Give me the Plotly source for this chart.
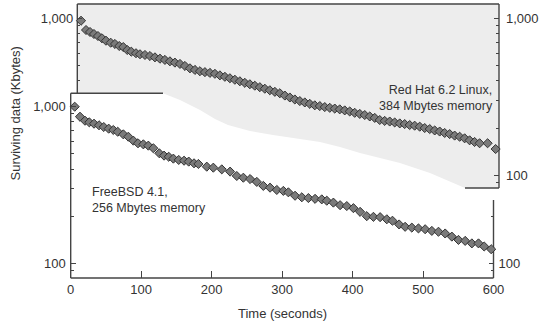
import plotly.graph_objects as go

# ---------------- data ----------------
# FreeBSD 4.1, 256 Mbytes memory (front panel)
bsd_time = [5.7, 13.2, 20.3, 26.4, 33.1, 40.2, 46.9, 53.9, 60.5, 66.7, 74.7, 81.8, 88.9, 95.5,
            103.1, 110.2, 117.3, 125.8, 132.5, 139.1, 145.7, 153.3, 160.9, 167.5, 175.0, 181.2,
            193.1, 202.4, 214.4, 226.2, 235.7, 245.0, 254.6, 264.1, 273.4, 282.9, 292.5, 301.8,
            308.9, 318.4, 328.0, 337.3, 346.8, 356.3, 363.4, 372.8, 382.3, 391.8, 401.2, 410.7,
            420.2, 429.6, 439.1, 448.6, 456.6, 466.1, 474.6, 484.1, 493.5, 503.0, 512.5, 521.9,
            531.4, 540.9, 550.3, 559.8, 569.3, 578.7, 586.8, 596.7]
bsd_kbytes = [1000, 863, 814, 795, 779, 761, 742, 724, 710, 692, 666, 643, 607, 584,
              575, 564, 543, 504, 487, 479, 466, 457, 452, 446, 435, 431,
              414, 408, 398, 385, 361, 352, 345, 331, 312, 304, 294, 290,
              284, 270, 264, 261, 258, 256, 251, 244, 235, 232, 225, 213,
              200, 198, 197, 191, 187, 177, 171, 169, 167, 165, 161, 159,
              155, 148, 141, 139, 134, 134, 128, 123]

# Red Hat 6.2 Linux, 384 Mbytes memory (back panel)
rh_time = [5.3, 12.4, 18.1, 23.7, 29.4, 35.1, 40.8, 47.5, 53.6, 59.7, 65.4, 71.1, 76.8, 83.5,
           89.2, 96.3, 103.4, 110.5, 117.6, 124.7, 131.8, 138.9, 146.1, 153.2, 160.3, 167.4,
           174.5, 181.6, 188.7, 195.8, 202.9, 210.0, 217.1, 224.2, 231.3, 238.4, 245.5, 252.6,
           259.7, 266.8, 273.9, 281.1, 288.2, 295.3, 302.4, 309.5, 316.6, 323.7, 330.8, 337.9,
           345.0, 352.1, 359.2, 366.3, 373.4, 380.5, 387.6, 394.7, 401.9, 409.0, 416.1, 423.2,
           430.3, 437.4, 444.5, 451.6, 458.8, 465.8, 472.9, 480.0, 487.2, 494.3, 501.4, 508.5,
           515.6, 522.7, 529.8, 536.9, 544.0, 551.1, 558.2, 565.3, 572.4, 583.8, 595.2]
rh_kbytes = [965, 842, 818, 794, 771, 746, 720, 699, 686, 666, 656, 628, 613, 599,
             590, 584, 575, 564, 553, 543, 532, 522, 512, 497, 480, 469,
             460, 454, 449, 443, 433, 424, 415, 406, 397, 388, 380, 372,
             364, 356, 348, 340, 333, 322, 313, 304, 297, 291, 285, 279,
             276, 272, 269, 266, 263, 259, 255, 250, 246, 242, 237, 232,
             225, 222, 220, 217, 214, 212, 209, 207, 204, 200, 197, 193,
             190, 186, 183, 179, 176, 172, 167, 163, 160, 160, 147]

x_ticks = [0, 100, 200, 300, 400, 500, 600]
y_major = [100, 1000]
y_major_text = ["100", "1,000"]
y_minor = [90, 200, 300, 400, 500, 600, 700, 800, 900]

# ---------------- layout helpers (pixel -> paper) ----------------
W, H = 543, 324
def px(x):
    return x / W
def py(y):
    return 1 - y / H

FONT = "Liberation Sans, Arial, Helvetica, sans-serif"
TXT = "#333333"
AX = "#444444"

# panel geometry (pixels)
F_L, F_R, F_T, F_B = 70.7, 493.5, 93.3, 278.0      # front panel
B_L, B_R, B_T, B_B = 77.3, 499.0, 4.0, 188.0       # back panel

marker = dict(symbol="diamond", size=7, color="#7a7a7a", line=dict(color="#333333", width=1))

fig = go.Figure()
fig.add_trace(go.Scatter(x=rh_time, y=rh_kbytes, mode="markers", marker=marker,
                         xaxis="x2", yaxis="y2", showlegend=False, cliponaxis=False))
fig.add_trace(go.Scatter(x=bsd_time, y=bsd_kbytes, mode="markers", marker=marker,
                         xaxis="x", yaxis="y", showlegend=False, cliponaxis=False))

tickfont = dict(family=FONT, size=13, color=TXT)

def yax(domain, rng, vals, texts, minor_vals, side="left", standoff=3, **kw):
    d = dict(type="log", domain=domain, range=rng, tickmode="array", tickvals=vals,
             ticktext=texts, ticks="inside", ticklen=5, tickwidth=1, tickcolor=AX,
             showgrid=False, zeroline=False, showline=False, side=side, tickfont=tickfont,
             automargin=False, ticklabelstandoff=standoff,
             minor=dict(tickmode="array", tickvals=minor_vals, ticks="inside", ticklen=3,
                        tickwidth=1, tickcolor=AX, showgrid=False))
    d.update(kw)
    return d

front_ydom = [py(F_B), py(F_T)]
back_ydom = [py(B_B), py(B_T)]
front_rng = [1.906, 3.0856]
back_rng = [1.919, 3.091]

fig.update_layout(
    width=W, height=H, autosize=False,
    margin=dict(l=0, r=0, t=0, b=0, pad=0),
    paper_bgcolor="white", plot_bgcolor="rgba(0,0,0,0)",
    font=dict(family=FONT, size=13, color=TXT),
    xaxis=dict(domain=[px(F_L), px(F_R)], range=[0, 600], anchor="y",
               tickmode="array", tickvals=x_ticks, ticks="inside", ticklen=7,
               tickcolor=AX, tickwidth=1, showgrid=False, zeroline=False,
               showline=False, tickfont=tickfont, automargin=False, ticklabelstandoff=2),
    yaxis=yax(front_ydom, front_rng, y_major, y_major_text, y_minor, anchor="x", standoff=4),
    yaxis3=yax(front_ydom, front_rng, [100], ["100"], [90, 200], side="right",
               anchor="x", overlaying="y", standoff=4),
    xaxis2=dict(domain=[px(B_L), px(B_R)], range=[0, 600], anchor="y2", visible=False,
                automargin=False),
    yaxis2=yax(back_ydom, back_rng, [1000], ["1,000"], [400, 500, 600, 700, 800, 900],
               anchor="x2", standoff=3),
    yaxis4=yax(back_ydom, back_rng, y_major, y_major_text, y_minor, side="right",
               anchor="x2", overlaying="y2", standoff=6),
)

# dummy traces so that yaxis3/yaxis4 render
fig.add_trace(go.Scatter(x=[None], y=[None], xaxis="x", yaxis="y3", showlegend=False))
fig.add_trace(go.Scatter(x=[None], y=[None], xaxis="x2", yaxis="y4", showlegend=False))

shapes = []
# gray back panel
shapes.append(dict(type="rect", xref="paper", yref="paper", layer="below",
                   x0=px(B_L), x1=px(B_R), y0=py(B_B), y1=py(B_T),
                   fillcolor="#ededed", line=dict(width=0)))
# white front region with curved top edge
edge = [(163, 93.3), (180, 100), (200, 110), (215, 119), (228, 125), (250, 131),
        (273, 135), (300, 139), (320, 142), (340, 147), (360, 153), (400, 163),
        (430, 173), (465, 188)]
pts = [(F_L, F_T)] + edge + [(B_R + 2, 188), (B_R + 2, F_B), (F_L, F_B)]
path = "M " + " L ".join(f"{px(a):.5f},{py(b):.5f}" for a, b in pts) + " Z"
shapes.append(dict(type="path", xref="paper", yref="paper", layer="below", path=path,
                   fillcolor="white", line=dict(width=0)))
lines = [
    (B_L, B_T, B_R, B_T), (B_L, B_T, B_L, F_T), (B_R, B_T, B_R, B_B), (465, B_B, B_R, B_B),
    (F_L, F_T, 163, F_T), (F_L, F_T, F_L, F_B), (F_L, F_B, F_R, F_B), (F_R, 200, F_R, F_B),
]
for x0, y0, x1, y1 in lines:
    shapes.append(dict(type="line", xref="paper", yref="paper", layer="below",
                       x0=px(x0), y0=py(y0), x1=px(x1), y1=py(y1),
                       line=dict(color=AX, width=1.4)))
fig.update_layout(shapes=shapes)

ann_font = dict(family=FONT, size=12.5, color=TXT)
fig.update_layout(annotations=[
    dict(text="Red Hat 6.2 Linux,<br>384 Mbytes memory", xref="paper", yref="paper",
         x=px(494.5), y=py(97.5), xanchor="right", yanchor="middle", align="right",
         showarrow=False, font=ann_font),
    dict(text="FreeBSD 4.1,<br>256 Mbytes memory", xref="paper", yref="paper",
         x=px(89.5), y=py(200), xanchor="left", yanchor="middle", align="left",
         showarrow=False, font=ann_font),
    dict(text="Surviving data (Kbytes)", xref="paper", yref="paper", textangle=-90,
         x=px(14.5), y=py(114), xanchor="center", yanchor="middle", showarrow=False,
         font=dict(family=FONT, size=13, color=TXT)),
    dict(text="Time (seconds)", xref="paper", yref="paper",
         x=px(282), y=py(313), xanchor="center", yanchor="middle", showarrow=False,
         font=dict(family=FONT, size=13, color=TXT)),
])

fig.write_html("out.html", config={"displayModeBar": False},
               post_script="document.body.style.margin='0px';document.body.style.overflow='hidden';")
